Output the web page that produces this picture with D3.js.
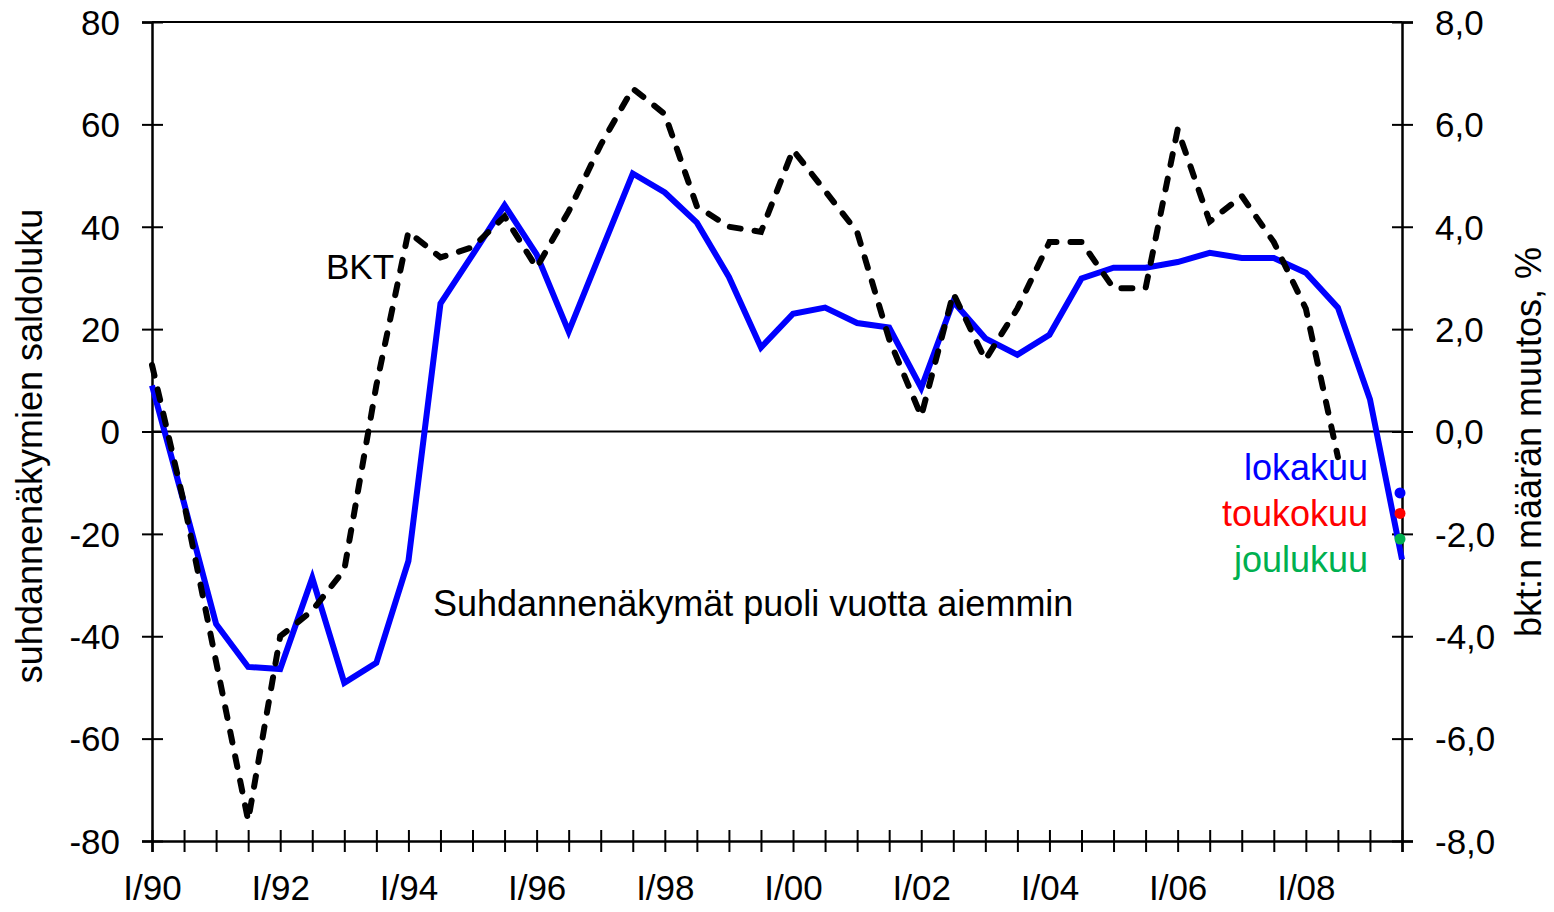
<!DOCTYPE html>
<html>
<head>
<meta charset="utf-8">
<script src="https://cdn.jsdelivr.net/npm/d3@7"></script>
<style>
  html, body { margin: 0; padding: 0; background: #fff; }
  svg { display: block; font-family: "Liberation Sans", Arial, sans-serif; }
</style>
</head>
<body>
<div id="chart"></div>
<script>
// half-year periods, I/90 ... III/09
const periods = [
  "I/90","III/90","I/91","III/91","I/92","III/92","I/93","III/93","I/94","III/94",
  "I/95","III/95","I/96","III/96","I/97","III/97","I/98","III/98","I/99","III/99",
  "I/00","III/00","I/01","III/01","I/02","III/02","I/03","III/03","I/04","III/04",
  "I/05","III/05","I/06","III/06","I/07","III/07","I/08","III/08","I/09","III/09"
];
const xTickLabels = ["I/90","I/92","I/94","I/96","I/98","I/00","I/02","I/04","I/06","I/08"];

// suhdannenäkymät puoli vuotta aiemmin (saldoluku, left axis)
const outlook = [
  9, -14, -37.6, -46, -46.4, -28.6, -49.1, -45.2, -25.3, 25,
  34.5, 44.2, 34.6, 19.5, 35, 50.4, 46.7, 40.8, 30.2, 16.4,
  23, 24.2, 21.2, 20.3, 8.5, 25.4, 18.2, 15, 18.9, 29.9,
  32, 32, 33.1, 34.9, 33.9, 33.9, 31, 24.2, 6.3, -25
];

// BKT, määrän muutos % (right axis)
const gdp = [
  1.3, -1.4, -4.5, -7.6, -4.0, -3.5, -2.7, 0.9, 3.9, 3.4,
  3.6, 4.2, 3.2, 4.3, 5.6, 6.7, 6.2, 4.4, 4.0, 3.9,
  5.5, 4.7, 3.9, 1.8, 0.3, 2.7, 1.4, 2.4, 3.7, 3.7,
  2.8, 2.8, 5.9, 4.1, 4.6, 3.7, 2.4, -0.5
];

// ennusteet (right axis)
const forecastMonths = ["lokakuu", "toukokuu", "joulukuu"];
const forecastValues = [-1.2, -1.6, -2.1];
const forecastColors = ["#0000ff", "#ff0000", "#00b050"];

const leftTicks = [-80, -60, -40, -20, 0, 20, 40, 60, 80];
const rightTicks = [-8, -6, -4, -2, 0, 2, 4, 6, 8];

const width = 1554, height = 912;
const margin = {top: 22, right: 152, bottom: 71, left: 152};
const fi = d3.formatLocale({decimal: ",", thousands: " ", grouping: [3], currency: ["", " €"], minus: "-"});
const fmtL = fi.format("d");
const fmtR = fi.format(".1f");

const svg = d3.select("#chart").append("svg")
  .attr("width", width)
  .attr("height", height);

const x = d3.scaleLinear([0, periods.length - 1], [margin.left, width - margin.right]);
const yL = d3.scaleLinear([-80, 80], [height - margin.bottom, margin.top]);
const yR = d3.scaleLinear([-8, 8], [height - margin.bottom, margin.top]);

const x0 = margin.left, x1 = width - margin.right;

// top border and zero line
svg.append("line")
  .attr("x1", x0).attr("x2", x1)
  .attr("y1", yL(80)).attr("y2", yL(80))
  .attr("stroke", "#000").attr("stroke-width", 2);
svg.append("line")
  .attr("x1", x0).attr("x2", x1)
  .attr("y1", yL(0)).attr("y2", yL(0))
  .attr("stroke", "#000").attr("stroke-width", 2);

// Left axis
const gL = svg.append("g")
  .attr("transform", `translate(${x0},0)`)
  .call(d3.axisLeft(yL).tickValues(leftTicks).tickFormat(fmtL).tickSize(10).tickPadding(22));
gL.selectAll(".tick line").attr("x1", 11).attr("x2", -10).attr("stroke-width", 2);
gL.select(".domain").attr("stroke-width", 2.5);
gL.selectAll(".tick text").style("font-size", "35px").attr("fill", "#000").attr("dy", "0.35em");

// Right axis
const gR = svg.append("g")
  .attr("transform", `translate(${x1},0)`)
  .call(d3.axisRight(yR).tickValues(rightTicks).tickFormat(fmtR).tickSize(11).tickPadding(22));
gR.selectAll(".tick line").attr("x1", -10).attr("x2", 11).attr("stroke-width", 2);
gR.select(".domain").attr("stroke-width", 2.5);
gR.selectAll(".tick text").style("font-size", "35px").attr("fill", "#000").attr("dy", "0.35em");

// Bottom axis
const gB = svg.append("g")
  .attr("transform", `translate(0,${yL(-80)})`)
  .call(d3.axisBottom(x)
    .tickValues(d3.range(periods.length))
    .tickFormat(i => xTickLabels.includes(periods[i]) ? periods[i] : "")
    .tickSize(11).tickPadding(23));
gB.selectAll(".tick line").attr("y1", -11).attr("y2", 11).attr("stroke-width", 2);
gB.select(".domain").attr("stroke-width", 2.5);
gB.selectAll(".tick text").style("font-size", "35px").attr("fill", "#000");

// Lines
const lineL = d3.line().x((d, i) => x(i)).y(d => yL(d));
const lineR = d3.line().x((d, i) => x(i)).y(d => yR(d));

svg.append("path")
  .datum(outlook)
  .attr("d", lineL)
  .attr("fill", "none")
  .attr("stroke", "#0000ff")
  .attr("stroke-width", 6)
  .attr("stroke-linejoin", "miter");

svg.append("path")
  .datum(gdp)
  .attr("d", lineR)
  .attr("fill", "none")
  .attr("stroke", "#000")
  .attr("stroke-width", 6)
  .attr("stroke-linecap", "round")
  .attr("stroke-dasharray", "11,14");

// Forecast dots
svg.selectAll("circle.fc")
  .data(forecastValues)
  .join("circle")
  .attr("class", "fc")
  .attr("cx", x(periods.length - 1) - 2)
  .attr("cy", d => yR(d))
  .attr("r", 5.5)
  .attr("fill", (d, i) => forecastColors[i]);

// Forecast labels
svg.selectAll("text.fcl")
  .data(forecastMonths)
  .join("text")
  .attr("class", "fcl")
  .attr("x", x(periods.length - 1) - 34)
  .attr("y", (d, i) => 480 + i * 46)
  .attr("text-anchor", "end")
  .style("font-size", "36px")
  .attr("fill", (d, i) => forecastColors[i])
  .text(d => d);

// Annotations
svg.append("text")
  .attr("x", 326).attr("y", 279)
  .style("font-size", "35px")
  .text("BKT");
svg.append("text")
  .attr("x", 433).attr("y", 616)
  .style("font-size", "36px")
  .text("Suhdannenäkymät puoli vuotta aiemmin");

// Axis titles
svg.append("text")
  .attr("transform", `translate(42, 446) rotate(-90)`)
  .attr("text-anchor", "middle")
  .style("font-size", "36px")
  .text("suhdannenäkymien saldoluku");
svg.append("text")
  .attr("transform", `translate(1541, 442) rotate(-90)`)
  .attr("text-anchor", "middle")
  .style("font-size", "36px")
  .text("bkt:n määrän muutos, %");
</script>
</body>
</html>
